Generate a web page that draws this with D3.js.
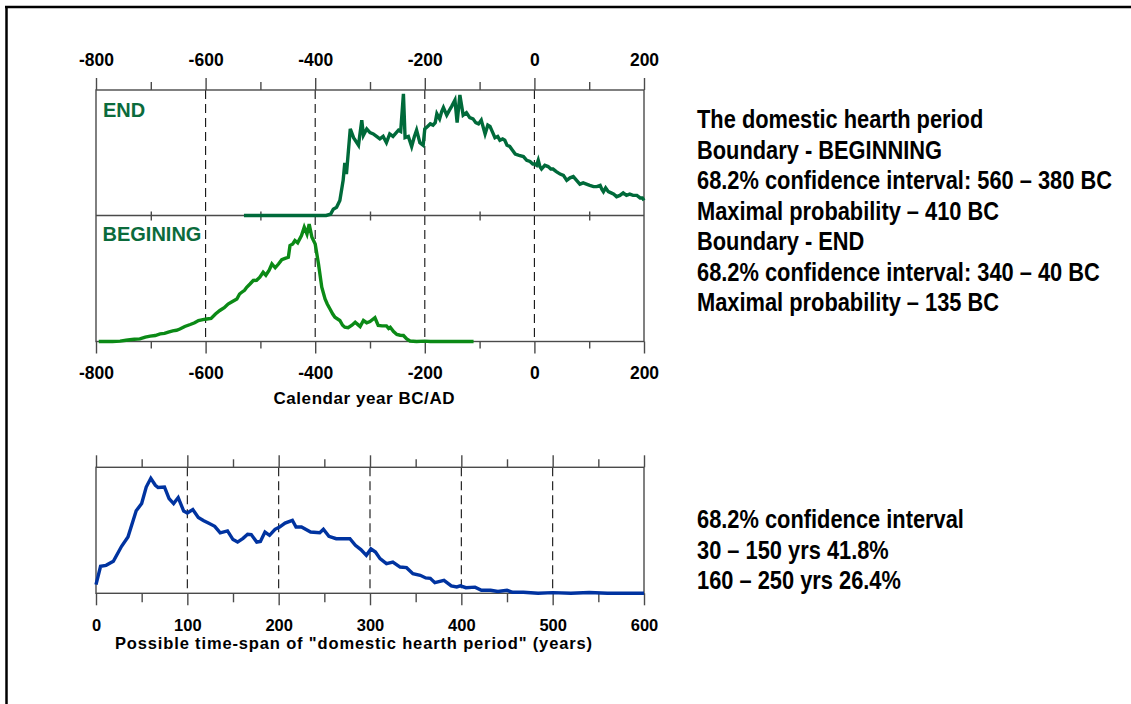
<!DOCTYPE html>
<html><head><meta charset="utf-8">
<script src="https://cdn.jsdelivr.net/npm/d3@7"></script>
<style>body{margin:0;background:#fff}svg{display:block}</style>
</head><body>
<svg id="chart" width="1131" height="704"></svg>
<script>
// ---------- data ----------
const calTicks = [-800, -600, -400, -200, 0, 200];
const calMinorTicks = [-700, -500, -300, -100, 100];
const spanTicks = [0, 100, 200, 300, 400, 500, 600];
const spanMinorTicks = [50, 150, 250, 350, 450, 550];

const endYears = [-530,-380,-372,-367,-361,-355,-349,-346,-343,-336,-330,-321,-315,-312,-306,-300,-294,-288,-282,-276,-270,-264,-258,-252,-248,-244,-239,-236,-230,-224,-219,-215,-209,-203,-200,-195,-190,-185,-181,-178,-173,-169,-166,-160,-155,-151,-145,-141,-136,-130,-124,-118,-112,-107,-102,-97,-90,-85,-81,-76,-72,-67,-63,-58,-54,-50,-45,-40,-35,-28,-20,-14,-8,-3,1,4,7,10,13,19,25,30,34,40,47,53,59,65,71,77,83,89,95,101,108,114,120,123,126,130,135,140,145,150,156,162,168,174,180,187,193,197,200];
const endProb = [0,0,1,5,6.5,12,28,42,33,69,62,56,76,64,69,66,65,63,61,63,58,65,63,66,68,67,97,62,63,55,63,68,58,56,69,71,73,72,74,81,77,83,86,80,84,87,92,74,96,80,82,78,77,74,73,76,65,72,71,66,62,63,60,61,60,56,55,52,49,48,47,44,43,41,41,40,44,39,37,40,39,37,37,35,33,32,28,30,31,28,25,26,25,24,23,23,24,21,19,22,19,18,17,15,16,18,16,17,16,16,14,14,12];

const beginYears = [-795,-770,-756,-745,-738,-730,-720,-710,-701,-692,-683,-675,-668,-660,-653,-647,-638,-628,-620,-613,-605,-598,-590,-582,-574,-566,-559,-551,-543,-538,-534,-529,-525,-519,-513,-507,-501,-495,-490,-484,-479,-473,-467,-461,-455,-449,-446,-441,-437,-432,-425,-420,-415,-411,-406,-400,-394,-388,-382,-378,-373,-368,-364,-355,-350,-346,-340,-333,-327,-322,-318,-312,-306,-300,-291,-285,-278,-270,-266,-263,-257,-251,-245,-239,-233,-227,-215,-200,-190,-111];
const beginProb = [0,0,0.3,1,1.4,1.8,2.1,3.5,4.3,4.8,6.1,6.5,7.5,8.5,9,10,12,13.6,15,16.8,17.5,18,18.5,22,24.8,27,30,32,34,38,39.4,41,43.4,46,48.8,49,51.4,55.4,53,57,62,59,62,65.4,66.5,67.4,76.8,78,80.8,79,84.8,91.4,86,94,83.4,78,62,43.4,34,30,26,22,19.4,16.8,13,11.4,11,13,15.4,13.5,12,16.8,15,16,19,12.8,12.5,12.5,10.5,11.4,8,5.6,5,4.8,2,0.4,0,0.3,0,0];

const spanYears = [0,5,11,19,28,35,44,50,55,60,65,68,75,80,85,90,96,100,106,112,118,123,130,136,144,150,155,161,166,170,176,180,185,190,196,201,207,215,219,225,235,245,249,255,263,270,278,284,290,296,301,306,311,318,325,333,340,347,355,361,366,371,381,389,395,399,405,415,422,432,440,450,456,468,484,500,520,540,560,600];
const spanProb = [7,21.6,22.4,25.6,37.6,45,66,71.8,85,92,86.4,84.6,85,75.8,71.8,76.6,65.8,64.2,67,60.6,58,56.2,53.6,48.3,49.9,43,41,44,47.2,47,41,41.5,49,46.4,51.2,53,56.2,58.4,53,53,49,48.4,51.2,45.6,43.7,43.7,43.7,38.4,35,30.4,35.5,33,27.7,23.7,25,21,20.5,15.7,14.4,12.3,12,8.5,10.4,5.9,5.1,6,4.5,4.9,2.4,2.4,1.4,2.4,0.8,0.8,0,0.5,0,0.6,0,0];

const infoLines = ["The domestic hearth period", "Boundary - BEGINNING", "68.2% confidence interval: 560 \u2013 380 BC", "Maximal probability \u2013 410 BC", "Boundary - END", "68.2% confidence interval: 340 \u2013 40 BC", "Maximal probability \u2013 135 BC"];
const spanInfoLines = ["68.2% confidence interval", "30 \u2013 150 yrs 41.8%", "160 \u2013 250 yrs 26.4%"];
const panelLabels = ["END", "BEGINING"];
const calTitle = "Calendar year BC/AD";
const spanTitle = "Possible time-span of \"domestic hearth period\" (years)";

// ---------- drawing ----------
const svg = d3.select("#chart");
const FONT = "'Liberation Sans', Arial, Helvetica, sans-serif";
const AX = "#4a4a4a";

// outer frame
svg.append("line").attr("x1", 5).attr("x2", 1131).attr("y1", 7).attr("y2", 7).attr("stroke", "#000").attr("stroke-width", 2.5);
svg.append("line").attr("x1", 6.5).attr("x2", 6.5).attr("y1", 6).attr("y2", 704).attr("stroke", "#000").attr("stroke-width", 2.5);

const L = 96, R = 644;
const xCal = d3.scaleLinear().domain([-800, 200]).range([L, R]);
const topY = 90, midY = 215.5, botY = 341.5;
const yEnd = d3.scaleLinear().domain([0, 100]).range([midY, topY]);
const yBeg = d3.scaleLinear().domain([0, 100]).range([botY, midY + 1]);

const xSpan = d3.scaleLinear().domain([0, 600]).range([L, R]);
const sTop = 467.3, sBot = 593.3;
const ySpan = d3.scaleLinear().domain([0, 100]).range([sBot, sTop + 1]);

function styleAxis(g, fs) {
  g.select(".domain").remove();
  g.selectAll(".tick line").attr("stroke", AX).attr("stroke-width", 1.4);
  g.selectAll(".tick text").attr("fill", "#000").attr("font-family", FONT)
    .attr("font-weight", "bold").attr("font-size", fs);
}
const fmt = d => String(d);

// ---- upper chart ----
svg.append("g").selectAll("line").data(calTicks.slice(1, -1)).join("line")
  .attr("x1", d => xCal(d)).attr("x2", d => xCal(d)).attr("y1", topY).attr("y2", botY)
  .attr("stroke", "#111").attr("stroke-width", 1.1).attr("stroke-dasharray", "9,5");

svg.append("rect").attr("x", L).attr("y", topY).attr("width", R - L).attr("height", botY - topY)
  .attr("fill", "none").attr("stroke", AX).attr("stroke-width", 1.4);
svg.append("line").attr("x1", L).attr("x2", R).attr("y1", midY).attr("y2", midY)
  .attr("stroke", AX).attr("stroke-width", 1.4);

svg.append("g").attr("transform", `translate(0,${topY})`)
  .call(d3.axisTop(xCal).tickValues(calTicks).tickSize(12).tickPadding(12.3).tickFormat(fmt))
  .call(g => styleAxis(g, 17.5));
svg.append("g").attr("transform", `translate(0,${topY})`)
  .call(d3.axisTop(xCal).tickValues(calMinorTicks).tickSize(8).tickFormat(""))
  .call(g => styleAxis(g, 17));
svg.append("g").attr("transform", `translate(0,${midY})`)
  .call(d3.axisTop(xCal).tickValues(calMinorTicks).tickSize(4).tickFormat(""))
  .call(g => styleAxis(g, 17));
svg.append("g").attr("transform", `translate(0,${midY})`)
  .call(d3.axisBottom(xCal).tickValues(calMinorTicks).tickSize(5).tickFormat(""))
  .call(g => styleAxis(g, 17));
svg.append("g").attr("transform", `translate(0,${botY})`)
  .call(d3.axisBottom(xCal).tickValues(calTicks).tickSize(12).tickPadding(13).tickFormat(fmt))
  .call(g => styleAxis(g, 17.5));
svg.append("g").attr("transform", `translate(0,${botY})`)
  .call(d3.axisBottom(xCal).tickValues(calMinorTicks).tickSize(7).tickFormat(""))
  .call(g => styleAxis(g, 17));

const endData = endYears.map((y, i) => [y, endProb[i]]);
const begData = beginYears.map((y, i) => [y, beginProb[i]]);
svg.append("path").datum(endData)
  .attr("d", d3.line().x(d => xCal(d[0])).y(d => yEnd(d[1])))
  .attr("fill", "none").attr("stroke", "#006a3a").attr("stroke-width", 3.4).attr("stroke-linejoin", "miter");
svg.append("path").datum(begData)
  .attr("d", d3.line().x(d => xCal(d[0])).y(d => yBeg(d[1])))
  .attr("fill", "none").attr("stroke", "#0b8a16").attr("stroke-width", 3.4).attr("stroke-linejoin", "miter");

svg.append("text").attr("x", 103).attr("y", 117).text(panelLabels[0])
  .attr("font-family", FONT).attr("font-weight", "bold").attr("font-size", 20).attr("fill", "#0b6b3c");
svg.append("text").attr("x", 102.5).attr("y", 241).text(panelLabels[1])
  .attr("font-family", FONT).attr("font-weight", "bold").attr("font-size", 20).attr("fill", "#0b6b3c");

svg.append("text").attr("x", 364).attr("y", 404).attr("text-anchor", "middle").text(calTitle)
  .attr("font-family", FONT).attr("font-weight", "bold").attr("font-size", 17)
  .attr("textLength", 181).attr("lengthAdjust", "spacing");

// ---- lower chart ----
svg.append("g").selectAll("line").data(spanTicks.slice(1, -1)).join("line")
  .attr("x1", d => xSpan(d)).attr("x2", d => xSpan(d)).attr("y1", sTop).attr("y2", sBot)
  .attr("stroke", "#111").attr("stroke-width", 1.1).attr("stroke-dasharray", "9,5");
svg.append("rect").attr("x", L).attr("y", sTop).attr("width", R - L).attr("height", sBot - sTop)
  .attr("fill", "none").attr("stroke", AX).attr("stroke-width", 1.4);

svg.append("g").attr("transform", `translate(0,${sTop})`)
  .call(d3.axisTop(xSpan).tickValues(spanTicks).tickSize(12).tickFormat(""))
  .call(g => styleAxis(g, 16));
svg.append("g").attr("transform", `translate(0,${sTop})`)
  .call(d3.axisTop(xSpan).tickValues(spanMinorTicks).tickSize(8).tickFormat(""))
  .call(g => styleAxis(g, 16));
svg.append("g").attr("transform", `translate(0,${sBot})`)
  .call(d3.axisBottom(xSpan).tickValues(spanTicks).tickSize(12).tickPadding(13.5).tickFormat(fmt))
  .call(g => styleAxis(g, 16.5));
svg.append("g").attr("transform", `translate(0,${sBot})`)
  .call(d3.axisBottom(xSpan).tickValues(spanMinorTicks).tickSize(9).tickFormat(""))
  .call(g => styleAxis(g, 16));

const spanData = spanYears.map((y, i) => [y, spanProb[i]]);
svg.append("path").datum(spanData)
  .attr("d", d3.line().x(d => xSpan(d[0])).y(d => ySpan(d[1])))
  .attr("fill", "none").attr("stroke", "#0033a0").attr("stroke-width", 3.4).attr("stroke-linejoin", "miter");

svg.append("text").attr("x", 353.5).attr("y", 649).attr("text-anchor", "middle").text(spanTitle)
  .attr("font-family", FONT).attr("font-weight", "bold").attr("font-size", 16.5)
  .attr("textLength", 477).attr("lengthAdjust", "spacing");

// ---- info text ----
function infoBlock(lines, y0, step) {
  svg.append("g").selectAll("text").data(lines).join("text")
    .attr("transform", (d, i) => `translate(697,${y0 + i * step}) scale(0.84,1)`)
    .attr("font-family", FONT).attr("font-weight", "bold").attr("font-size", 26).attr("fill", "#000")
    .text(d => d);
}
infoBlock(infoLines, 128, 30.5);
infoBlock(spanInfoLines, 528, 30.5);
</script>
</body></html>
